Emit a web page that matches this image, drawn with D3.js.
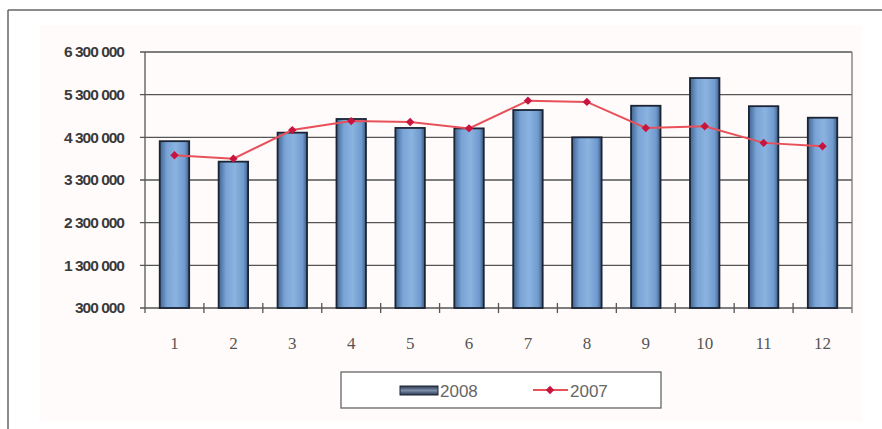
<!DOCTYPE html>
<html>
<head>
<meta charset="utf-8">
<script src="https://cdn.jsdelivr.net/npm/d3@7"></script>
<style>
  body { margin: 0; background: #fff; }
  svg { display: block; }
</style>
</head>
<body>
<div id="chart"></div>
<script>
var months = [1, 2, 3, 4, 5, 6, 7, 8, 9, 10, 11, 12];
var values2008 = [4210000, 3730000, 4410000, 4730000, 4520000, 4510000, 4940000, 4300000, 5040000, 5690000, 5030000, 4760000];
var values2007 = [3880000, 3800000, 4470000, 4680000, 4660000, 4510000, 5160000, 5130000, 4520000, 4560000, 4170000, 4090000];
var yTicks = [300000, 1300000, 2300000, 3300000, 4300000, 5300000, 6300000];
var seriesNames = ["2008", "2007"];

var W = 882, H = 429;
var plot = {left: 145, right: 852, top: 52, bottom: 308};

var svg = d3.select("#chart")
  .append("svg")
    .attr("width", W)
    .attr("height", H);

// outer frame (only top and left visible)
svg.append("rect").attr("x", 40).attr("y", 25).attr("width", 822).attr("height", 397)
  .style("fill", "#fffbfb");
svg.append("line").attr("x1", 8).attr("x2", W).attr("y1", 10).attr("y2", 10)
  .style("stroke", "#666").style("stroke-width", 1.5);
svg.append("line").attr("x1", 8).attr("x2", 8).attr("y1", 10).attr("y2", H)
  .style("stroke", "#666").style("stroke-width", 1.5);

var defs = svg.append("defs");
var grad = defs.append("linearGradient").attr("id", "barGrad")
  .attr("x1", "0%").attr("x2", "100%").attr("y1", "0%").attr("y2", "0%");
grad.append("stop").attr("offset", "0%").attr("stop-color", "#3f6592");
grad.append("stop").attr("offset", "25%").attr("stop-color", "#7aa4d6");
grad.append("stop").attr("offset", "55%").attr("stop-color", "#8ab3e0");
grad.append("stop").attr("offset", "85%").attr("stop-color", "#6f9acd");
grad.append("stop").attr("offset", "100%").attr("stop-color", "#3c5b85");

var legGrad = defs.append("linearGradient").attr("id", "legGrad")
  .attr("x1", "0%").attr("x2", "0%").attr("y1", "0%").attr("y2", "100%");
legGrad.append("stop").attr("offset", "0%").attr("stop-color", "#2a3550");
legGrad.append("stop").attr("offset", "50%").attr("stop-color", "#7d8fa8");
legGrad.append("stop").attr("offset", "100%").attr("stop-color", "#2a3550");

var x = d3.scaleBand()
    .domain(months)
    .range([plot.left, plot.right])
    .paddingInner(0.5)
    .paddingOuter(0.25);

var y = d3.scaleLinear()
    .domain([300000, 6300000])
    .range([plot.bottom, plot.top]);

var fmt = function(d) { return d3.format(",")(d).replace(/,/g, " "); };

// gridlines
svg.append("g")
  .selectAll("line")
  .data(yTicks)
  .enter()
  .append("line")
    .attr("x1", plot.left - 5)
    .attr("x2", plot.right)
    .attr("y1", function(d) { return y(d); })
    .attr("y2", function(d) { return y(d); })
    .style("stroke", "#555")
    .style("stroke-width", 1.3);

// right border of plot
svg.append("line").attr("x1", plot.right).attr("x2", plot.right)
  .attr("y1", plot.top).attr("y2", plot.bottom + 5)
  .style("stroke", "#777").style("stroke-width", 1.3);
// y axis line
svg.append("line").attr("x1", plot.left).attr("x2", plot.left)
  .attr("y1", plot.top).attr("y2", plot.bottom + 5)
  .style("stroke", "#555").style("stroke-width", 1.3);

// x ticks between categories
var step = x.step();
svg.append("g")
  .selectAll("line")
  .data(months.slice(1))
  .enter()
  .append("line")
    .attr("x1", function(d) { return x(d) - step * 0.25; })
    .attr("x2", function(d) { return x(d) - step * 0.25; })
    .attr("y1", plot.bottom - 5)
    .attr("y2", plot.bottom + 5)
    .style("stroke", "#555")
    .style("stroke-width", 1.3);

// y labels
svg.append("g")
  .selectAll("text")
  .data(yTicks)
  .enter()
  .append("text")
    .attr("x", 124)
    .attr("y", function(d) { return y(d); })
    .attr("dy", "0.35em")
    .attr("text-anchor", "end")
    .style("font-family", "'Liberation Sans', Arial, sans-serif")
    .style("font-size", "15.5px")
    .style("font-weight", "bold")
    .style("letter-spacing", "-1px")
    .style("fill", "#3a3a3a")
    .text(fmt);

// x labels
svg.append("g")
  .selectAll("text")
  .data(months)
  .enter()
  .append("text")
    .attr("x", function(d) { return x(d) + x.bandwidth() / 2; })
    .attr("y", 343)
    .attr("dy", "0.35em")
    .attr("text-anchor", "middle")
    .style("font-family", "'Liberation Serif', 'Times New Roman', serif")
    .style("font-size", "17px")
    .style("fill", "#555")
    .text(function(d) { return d; });

// bars 2008
svg.append("g")
  .selectAll("rect")
  .data(values2008)
  .enter()
  .append("rect")
    .attr("x", function(d, i) { return x(months[i]); })
    .attr("y", function(d) { return y(d); })
    .attr("width", x.bandwidth())
    .attr("height", function(d) { return plot.bottom - y(d); })
    .style("fill", "url(#barGrad)")
    .style("stroke", "#1c2433")
    .style("stroke-width", 1.8);

// line 2007
var line = d3.line()
  .x(function(d, i) { return x(months[i]) + x.bandwidth() / 2; })
  .y(function(d) { return y(d); });

svg.append("path")
  .datum(values2007)
  .attr("d", line)
  .style("fill", "none")
  .style("stroke", "#e8505a")
  .style("stroke-width", 2);

var diamond = d3.symbol().type(d3.symbolDiamond2).size(45);
svg.append("g")
  .selectAll("path")
  .data(values2007)
  .enter()
  .append("path")
    .attr("d", diamond)
    .attr("transform", function(d, i) {
      return "translate(" + (x(months[i]) + x.bandwidth() / 2) + "," + y(d) + ")";
    })
    .style("fill", "#c8153f");

// legend
var leg = svg.append("g");
leg.append("rect").attr("x", 341).attr("y", 372).attr("width", 320).attr("height", 36)
  .style("fill", "#fff").style("stroke", "#666").style("stroke-width", 1.3);
leg.append("rect").attr("x", 400).attr("y", 386).attr("width", 38).attr("height", 9)
  .style("fill", "url(#legGrad)").style("stroke", "#1c2433").style("stroke-width", 1);
leg.append("text").attr("x", 440).attr("y", 391).attr("dy", "0.35em")
  .style("font-family", "'Liberation Sans Narrow', 'Arial Narrow', sans-serif")
  .style("font-size", "17px").style("fill", "#666")
  .text(seriesNames[0]);
leg.append("line").attr("x1", 533).attr("x2", 568).attr("y1", 390).attr("y2", 390)
  .style("stroke", "#e8505a").style("stroke-width", 2);
leg.append("path").attr("d", diamond).attr("transform", "translate(550,390)")
  .style("fill", "#c8153f");
leg.append("text").attr("x", 570).attr("y", 391).attr("dy", "0.35em")
  .style("font-family", "'Liberation Sans Narrow', 'Arial Narrow', sans-serif")
  .style("font-size", "17px").style("fill", "#666")
  .text(seriesNames[1]);
</script>
</body>
</html>
